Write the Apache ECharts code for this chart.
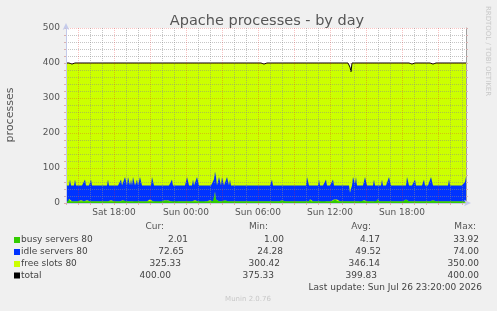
<!DOCTYPE html>
<html>
<head>
<meta charset="utf-8">
<script src="https://cdn.jsdelivr.net/npm/echarts@6/dist/echarts.min.js"></script>
<style>
  html, body { margin: 0; padding: 0; background: #f0f0f0; }
  #chart { width: 497px; height: 311px; }
</style>
</head>
<body>
<div id="chart"></div>
<script>
// munin samples, every 5 minutes from Sat 14:00 to Sun 23:20 (one line = one hour)
var startHour = 14;      // hours since Sat 00:00
var perHour = 12;        // samples per hour

var busy = [
    5, 5, 5, 12, 5, 5, 5, 5, 5, 5, 5, 8,
    5, 5, 5, 8, 5, 5, 5, 5, 5, 8, 5, 5,
    5, 5, 5, 5, 5, 5, 5, 5, 5, 5, 5, 8,
    5, 5, 8, 5, 5, 5, 5, 5, 5, 8, 5, 5,
    5, 5, 5, 5, 5, 8, 5, 5, 5, 8, 8, 5,
    5, 5, 5, 5, 5, 5, 5, 5, 5, 5, 8, 5,
    5, 5, 5, 5, 5, 8, 5, 5, 5, 5, 5, 10,
    10, 5, 5, 5, 5, 5, 5, 8, 5, 5, 8, 8,
    5, 5, 5, 8, 8, 5, 7, 5, 5, 5, 5, 5,
    5, 8, 5, 5, 5, 5, 5, 5, 8, 5, 5, 5,
    5, 5, 5, 5, 5, 5, 5, 5, 8, 8, 5, 5,
    5, 5, 5, 5, 8, 8, 5, 5, 5, 5, 5, 5,
    8, 5, 5, 5, 18, 32, 10, 5, 5, 5, 5, 5,
    5, 5, 8, 8, 8, 5, 5, 5, 5, 5, 5, 5,
    5, 8, 5, 5, 5, 5, 5, 5, 5, 5, 5, 5,
    5, 5, 5, 5, 8, 5, 5, 5, 5, 5, 5, 8,
    5, 5, 5, 5, 5, 5, 5, 8, 5, 5, 8, 5,
    5, 5, 5, 5, 5, 5, 5, 5, 5, 5, 5, 5,
    8, 5, 5, 5, 5, 5, 5, 5, 5, 5, 5, 5,
    5, 5, 5, 5, 8, 5, 5, 5, 5, 5, 5, 5,
    5, 5, 5, 5, 11, 5, 5, 5, 5, 5, 5, 5,
    8, 5, 5, 5, 5, 8, 5, 5, 5, 5, 5, 5,
    8, 5, 5, 5, 10, 10, 10, 10, 5, 5, 5, 5,
    5, 5, 5, 8, 5, 5, 5, 5, 5, 5, 5, 5,
    5, 5, 5, 5, 5, 5, 5, 5, 8, 5, 8, 5,
    5, 5, 5, 5, 5, 5, 5, 5, 5, 5, 5, 11,
    11, 5, 5, 5, 5, 8, 5, 5, 5, 5, 5, 5,
    5, 5, 5, 8, 5, 5, 5, 5, 5, 5, 5, 5,
    5, 5, 10, 10, 10, 10, 5, 5, 5, 5, 5, 5,
    5, 5, 5, 8, 5, 5, 8, 5, 5, 5, 5, 5,
    5, 5, 8, 5, 5, 5, 5, 8, 5, 5, 5, 5,
    5, 5, 8, 5, 5, 5, 5, 5, 8, 5, 5, 5,
    5, 5, 5, 8, 5, 5, 5, 5, 8, 5, 5, 5,
    5, 5, 5, 5, 2.01
];

var idle = [
    45, 45, 45, 38, 62, 45, 45, 45, 45, 62, 45, 42,
    45, 45, 45, 42, 45, 45, 45, 62, 45, 42, 45, 45,
    45, 62, 45, 45, 45, 45, 45, 45, 45, 45, 45, 42,
    45, 45, 42, 45, 45, 45, 62, 45, 45, 42, 45, 45,
    45, 45, 45, 45, 45, 42, 45, 62, 45, 42, 42, 69,
    69, 45, 69, 69, 45, 62, 45, 69, 69, 45, 42, 62,
    45, 45, 69, 69, 45, 42, 45, 45, 45, 45, 45, 40,
    40, 45, 69, 69, 45, 45, 45, 42, 45, 45, 42, 42,
    45, 45, 45, 42, 42, 45, 43, 45, 45, 45, 62, 45,
    45, 42, 45, 45, 45, 45, 45, 45, 42, 45, 45, 45,
    45, 69, 69, 45, 45, 45, 45, 62, 42, 42, 45, 69,
    69, 45, 45, 45, 42, 42, 45, 45, 45, 45, 45, 45,
    42, 45, 45, 45, 50, 58, 64, 45, 45, 69, 69, 45,
    69, 69, 42, 42, 42, 69, 69, 45, 62, 45, 45, 45,
    45, 42, 45, 45, 45, 45, 45, 45, 45, 45, 45, 45,
    45, 45, 45, 45, 42, 45, 45, 45, 45, 45, 45, 42,
    45, 45, 45, 45, 45, 45, 45, 42, 45, 45, 42, 45,
    45, 45, 62, 45, 45, 45, 45, 45, 45, 45, 45, 45,
    42, 45, 45, 45, 45, 45, 45, 45, 45, 45, 45, 45,
    45, 45, 45, 45, 42, 45, 45, 45, 45, 45, 45, 45,
    45, 69, 69, 45, 39, 45, 45, 45, 45, 45, 45, 45,
    42, 62, 45, 45, 45, 42, 45, 45, 62, 45, 45, 45,
    42, 45, 45, 62, 40, 40, 40, 40, 45, 45, 45, 45,
    45, 45, 45, 42, 45, 45, 45, 45, 24.28, 36, 45, 69,
    69, 50, 69, 45, 45, 45, 45, 45, 42, 45, 42, 69,
    69, 45, 45, 45, 45, 45, 45, 45, 62, 45, 45, 39,
    39, 45, 45, 45, 62, 42, 45, 45, 45, 45, 45, 69,
    69, 45, 45, 42, 45, 45, 45, 45, 45, 45, 45, 45,
    45, 45, 40, 40, 40, 64, 69, 45, 45, 45, 45, 45,
    45, 62, 45, 42, 45, 45, 42, 45, 45, 45, 62, 45,
    45, 45, 42, 45, 45, 69, 69, 42, 45, 45, 45, 45,
    45, 45, 42, 45, 45, 45, 45, 45, 42, 45, 45, 62,
    45, 45, 45, 42, 45, 45, 45, 45, 42, 45, 45, 45,
    45, 45, 45, 56, 72.65
];

var total = [
    400, 400, 400, 400, 400, 400, 397, 400, 400, 400, 400, 400,
    400, 400, 400, 400, 400, 400, 400, 400, 400, 400, 400, 400,
    400, 400, 400, 400, 400, 400, 400, 400, 400, 400, 400, 400,
    400, 400, 400, 400, 400, 400, 400, 400, 400, 400, 400, 400,
    400, 400, 400, 400, 400, 400, 400, 400, 400, 400, 400, 400,
    400, 400, 400, 400, 400, 400, 400, 400, 400, 400, 400, 400,
    400, 400, 400, 400, 400, 400, 400, 400, 400, 400, 397, 400,
    400, 400, 400, 400, 400, 400, 400, 400, 400, 400, 400, 400,
    400, 400, 400, 400, 400, 400, 400, 400, 400, 400, 400, 400,
    400, 400, 400, 400, 400, 400, 400, 400, 400, 400, 400, 400,
    400, 400, 400, 400, 400, 400, 400, 400, 400, 400, 400, 400,
    400, 400, 400, 400, 400, 400, 400, 400, 400, 400, 400, 400,
    400, 400, 400, 400, 400, 400, 400, 400, 400, 400, 400, 400,
    400, 400, 400, 400, 400, 400, 400, 400, 400, 400, 400, 400,
    400, 400, 400, 400, 400, 400, 400, 400, 400, 400, 400, 400,
    400, 400, 400, 400, 400, 400, 400, 400, 400, 400, 400, 400,
    400, 400, 400, 400, 400, 400, 397, 400, 400, 400, 400, 400,
    400, 400, 400, 400, 400, 400, 400, 400, 400, 400, 400, 400,
    400, 400, 400, 400, 400, 400, 400, 400, 400, 400, 400, 400,
    400, 400, 400, 400, 400, 400, 400, 400, 400, 400, 400, 400,
    400, 400, 400, 400, 400, 400, 400, 400, 400, 400, 400, 397,
    400, 400, 400, 400, 400, 400, 400, 400, 400, 400, 400, 400,
    400, 400, 400, 400, 400, 400, 400, 400, 400, 400, 400, 400,
    400, 400, 400, 400, 397, 400, 400, 400, 388, 375.33, 400, 400,
    400, 400, 400, 400, 400, 400, 400, 400, 400, 400, 400, 400,
    400, 400, 400, 400, 400, 400, 400, 400, 400, 400, 400, 400,
    400, 400, 400, 400, 400, 400, 400, 400, 400, 400, 400, 400,
    400, 400, 400, 400, 400, 400, 400, 400, 400, 400, 400, 400,
    400, 400, 400, 400, 400, 400, 400, 400, 400, 400, 397, 400,
    400, 400, 400, 400, 400, 400, 400, 400, 400, 400, 400, 400,
    400, 400, 400, 400, 400, 400, 400, 397, 400, 400, 400, 400,
    400, 400, 400, 400, 400, 400, 400, 400, 400, 400, 400, 400,
    400, 400, 400, 397, 400, 400, 400, 400, 400, 400, 400, 400,
    400, 400, 400, 400, 400
];

// legend table
var legendNames = ['busy servers 80', 'idle servers 80', 'free slots 80', 'total'];
var legendColors = ['#33cc00', '#0033ff', '#ccff00', '#000000'];
var statHeads = ['Cur:', 'Min:', 'Avg:', 'Max:'];
var statCur = ['2.01', '72.65', '325.33', '400.00'];
var statMin = ['1.00', '24.28', '300.42', '375.33'];
var statAvg = ['4.17', '49.52', '346.14', '399.83'];
var statMax = ['33.92', '74.00', '350.00', '400.00'];
var dayNames = ['Sat', 'Sun'];

var font = 'DejaVu Sans';
var minorGrid = 'rgba(140,140,140,0.5)';
var majorGrid = 'rgba(235,40,40,0.28)';
var axisBlue = '#c4caea';

// one category per sample: "Sat 14:00", "Sat 14:05", ...
var times = [];
for (var i = 0; i < busy.length; i++) {
    var mins = startHour * 60 + i * 5;
    var hh = Math.floor(mins / 60) % 24, mm = mins % 60;
    times.push(dayNames[Math.floor(mins / 1440)] + ' ' + (hh < 10 ? '0' : '') + hh + ':' + (mm < 10 ? '0' : '') + mm);
}

function onHour(index) { return index % perHour === 0; }
function onLabel(index) { return (index + startHour * perHour) % (6 * perHour) === 0; }

var chart = echarts.init(document.getElementById('chart'), null, { renderer: 'canvas' });

var graphics = [];
graphics.push({
    type: 'text', x: 267, y: 21, z: 10,
    style: { text: 'Apache processes - by day', fill: '#555', font: '14.5px "' + font + '"', align: 'center', verticalAlign: 'middle' }
});
graphics.push({
    type: 'text', x: 10, y: 115, rotation: Math.PI / 2, z: 10,
    style: { text: 'processes', fill: '#555', font: '11px "' + font + '"', align: 'center', verticalAlign: 'middle' }
});
graphics.push({
    type: 'text', x: 488, y: 51, rotation: -Math.PI / 2, z: 10,
    style: { text: 'RRDTOOL / TOBI OETIKER', fill: '#c8c8c8', font: '7px "' + font + '"', align: 'center', verticalAlign: 'middle' }
});
var headRight = [164, 268, 371, 476];
for (var h = 0; h < statHeads.length; h++) {
    graphics.push({
        type: 'text', x: headRight[h], y: 227, z: 10,
        style: { text: statHeads[h], fill: '#555', font: '9px "' + font + '"', align: 'right', verticalAlign: 'middle' }
    });
}
var rowY = [240, 252, 264, 275.5];
var colRight = [[188, 184, 181, 171], [284, 283, 280, 274], [380, 381, 380, 377], [479, 479, 479, 479]];
var cols = [statCur, statMin, statAvg, statMax];
for (var r = 0; r < legendNames.length; r++) {
    graphics.push({
        type: 'rect', z: 10,
        shape: { x: 14, y: rowY[r] - 3, width: 6, height: 6 },
        style: { fill: legendColors[r] }
    });
    graphics.push({
        type: 'text', x: 21, y: rowY[r], z: 10,
        style: { text: legendNames[r], fill: '#444', font: '9px "' + font + '"', align: 'left', verticalAlign: 'middle' }
    });
    for (var c = 0; c < cols.length; c++) {
        graphics.push({
            type: 'text', x: colRight[c][r], y: rowY[r], z: 10,
            style: { text: cols[c][r], fill: '#444', font: '9px "' + font + '"', align: 'right', verticalAlign: 'middle' }
        });
    }
}
graphics.push({
    type: 'text', x: 482, y: 287.5, z: 10,
    style: { text: 'Last update: Sun Jul 26 23:20:00 2026', fill: '#444', font: '9px "' + font + '"', align: 'right', verticalAlign: 'middle' }
});
graphics.push({
    type: 'text', x: 248, y: 299, z: 10,
    style: { text: 'Munin 2.0.76', fill: '#c8c8c8', font: '7px "' + font + '"', align: 'center', verticalAlign: 'middle' }
});

var option = {
    animation: false,
    backgroundColor: '#f0f0f0',
    textStyle: { fontFamily: font },
    grid: {
        left: 66, right: 31, top: 28, bottom: 108,
        show: true, backgroundColor: '#ffffff', borderWidth: 0
    },
    xAxis: [{
        type: 'category', data: times, boundaryGap: false, z: 3,
        axisLine: {
            show: true, onZero: false,
            lineStyle: { color: axisBlue },
            symbol: ['none', 'arrow'], symbolSize: [5, 7], symbolOffset: [0, 5]
        },
        axisTick: { show: true, length: 2, interval: onHour, lineStyle: { color: '#d9b0b0' } },
        axisLabel: {
            interval: onLabel,
            formatter: function(v) { return v; },
            color: '#555', fontSize: 9, fontFamily: font, margin: 5, hideOverlap: false
        },
        splitLine: { show: true, interval: onHour, lineStyle: { color: [minorGrid, majorGrid, minorGrid], type: [1, 1], width: 1 } }
    }],
    yAxis: [{
        type: 'value', min: 0, max: 500, interval: 20, z: 3,
        axisLine: {
            show: true,
            lineStyle: { color: axisBlue },
            symbol: ['none', 'arrow'], symbolSize: [5, 7], symbolOffset: [0, 5]
        },
        axisTick: { show: true, length: 2, lineStyle: { color: '#d9b0b0' } },
        axisLabel: {
            formatter: function(v) { return v % 100 === 0 ? String(v) : ''; },
            color: '#555', fontSize: 9, fontFamily: font, margin: 6
        },
        splitLine: { show: true, lineStyle: { color: [majorGrid, minorGrid, minorGrid, minorGrid, minorGrid], type: [1, 1], width: 1 } }
    }, {
        type: 'value', min: 0, max: 500, interval: 20, position: 'right', z: 3,
        axisLine: { show: true, lineStyle: { color: '#a0a0a0' } },
        axisTick: { show: true, length: 2, lineStyle: { color: '#d9b0b0' } },
        axisLabel: { show: false },
        splitLine: { show: false }
    }],
    series: [{
        name: 'free slots 80',
        type: 'line',
        data: total,
        symbol: 'none',
        lineStyle: { color: '#000000', width: 1 },
        areaStyle: { color: '#ccff00', opacity: 1 },
        z: 1
    }, {
        name: 'busy servers 80',
        type: 'line',
        stack: 'workers',
        data: busy,
        symbol: 'none',
        lineStyle: { width: 0 },
        areaStyle: { color: '#33cc00', opacity: 1 },
        z: 2
    }, {
        name: 'idle servers 80',
        type: 'line',
        stack: 'workers',
        data: idle,
        symbol: 'none',
        lineStyle: { width: 0 },
        areaStyle: { color: '#0033ff', opacity: 1 },
        z: 2
    }],
    graphic: graphics
};
chart.setOption(option);
</script>
</body>
</html>
